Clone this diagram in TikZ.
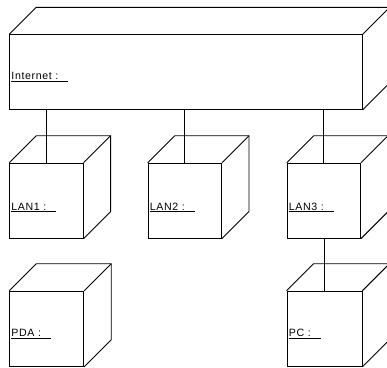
\documentclass[tikz,border=0pt]{standalone}
\usepackage{fontspec}
\setmainfont{Liberation Sans}[LetterSpace=6]
\usetikzlibrary{calc}
\newcommand{\cubeback}[1]{%
  \draw (#1.north west) -- ++(27,-27) -| ($(#1.south east)+(27,-27)$) -- (#1.south east);
  \draw (#1.north east) -- ++(27,-27);}
\newcommand{\ulabel}[2]{\underline{#1\hspace{#2}}}
\begin{document}
\begin{tikzpicture}[x=1pt,y=-1pt,line width=0.9pt,
  front/.style={draw,rectangle,inner sep=0pt,anchor=north west},
  lbl/.style={anchor=base west,inner sep=0pt,font=\fontsize{10.6}{12}\selectfont},
  conn/.style={draw}]
\useasboundingbox (0,0) rectangle (387,367);
\node[front,minimum width=352.4pt,minimum height=74.7pt] (internet) at (9.3,34.3) {};
\node[front,minimum width=73.4pt,minimum height=75pt] (lan1) at (9.3,162.7) {};
\node[front,minimum width=73.4pt,minimum height=75pt] (lan2) at (147.7,162.7) {};
\node[front,minimum width=73.4pt,minimum height=75pt] (lan3) at (286.7,162.7) {};
\node[front,minimum width=74pt,minimum height=75.3pt] (pda) at (9.3,290.7) {};
\node[front,minimum width=75pt,minimum height=75.3pt] (pc) at (286.5,290.7) {};
\cubeback{internet}
\cubeback{lan1}
\cubeback{lan2}
\cubeback{lan3}
\cubeback{pda}
\cubeback{pc}
\node[lbl] (internetlbl) at (11,79.5) {\ulabel{Internet :}{10pt}};
\node[lbl] (lan1lbl) at (11,210) {\ulabel{LAN1 :}{10pt}};
\node[lbl] (lan2lbl) at (149.5,210) {\ulabel{LAN2 :}{10pt}};
\node[lbl] (lan3lbl) at (288.5,210) {\ulabel{LAN3 :}{10pt}};
\node[lbl] (pdalbl) at (11,336.5) {\ulabel{PDA :}{10pt}};
\node[lbl] (pclbl) at (288.5,336.5) {\ulabel{PC :}{10pt}};
\draw[conn] (lan1.north) -- (lan1.north |- internet.south);
\draw[conn] (lan2.north) -- (lan2.north |- internet.south);
\draw[conn] (lan3.north) -- (lan3.north |- internet.south);
\draw[conn] (pc.north) -- (pc.north |- lan3.south);
\end{tikzpicture}
\end{document}
